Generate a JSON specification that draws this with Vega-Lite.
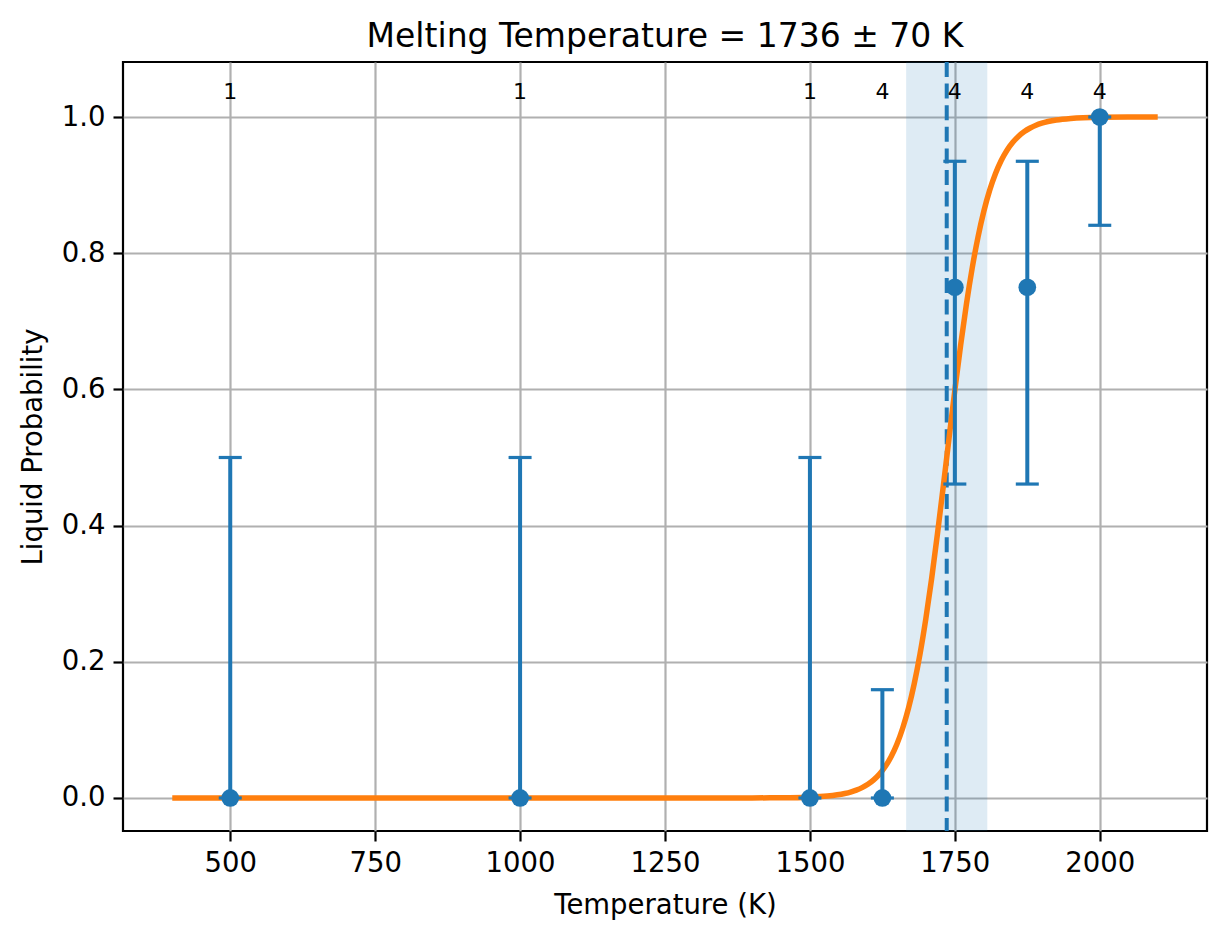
{
  "$schema": "https://vega.github.io/schema/vega-lite/v6.json",
  "autosize": {"type": "none"},
  "padding": {"left": 123, "top": 62, "right": 20, "bottom": 108},
  "width": 1084,
  "height": 769,
  "background": "white",
  "title": {
    "text": "Melting Temperature = 1736 ± 70 K",
    "font": "DejaVu Sans",
    "fontSize": 33,
    "fontWeight": "normal",
    "color": "black",
    "offset": 6
  },
  "config": {
    "view": {"stroke": "black", "strokeWidth": 2.2},
    "axis": {
      "labelFont": "DejaVu Sans",
      "labelFontSize": 27.5,
      "labelColor": "black",
      "titleFont": "DejaVu Sans",
      "titleFontSize": 27.5,
      "titleFontWeight": "normal",
      "titleColor": "black",
      "domain": false,
      "tickColor": "black",
      "tickSize": 10,
      "tickWidth": 2.2,
      "labelPadding": 8,
      "gridColor": "#b0b0b0",
      "gridWidth": 2.2,
      "gridOpacity": 1
    }
  },
  "datasets": {
    "pts": [
      {"T": 500, "p": 0, "lo": 0, "hi": 0.5, "n": "1"},
      {"T": 1000, "p": 0, "lo": 0, "hi": 0.5, "n": "1"},
      {"T": 1500, "p": 0, "lo": 0, "hi": 0.5, "n": "1"},
      {"T": 1625, "p": 0, "lo": 0, "hi": 0.159, "n": "4"},
      {"T": 1750, "p": 0.75, "lo": 0.461, "hi": 0.935, "n": "4"},
      {"T": 1875, "p": 0.75, "lo": 0.461, "hi": 0.935, "n": "4"},
      {"T": 2000, "p": 1.0, "lo": 0.841, "hi": 1.0, "n": "4"}
    ],
    "fit": [
      {"T": 400, "P": 0.0},
      {"T": 1400, "P": 0.0001},
      {"T": 1450, "P": 0.0003},
      {"T": 1500, "P": 0.0012},
      {"T": 1530, "P": 0.0028},
      {"T": 1560, "P": 0.0065},
      {"T": 1570, "P": 0.0086},
      {"T": 1580, "P": 0.0115},
      {"T": 1590, "P": 0.0152},
      {"T": 1600, "P": 0.0201},
      {"T": 1610, "P": 0.0266},
      {"T": 1620, "P": 0.0351},
      {"T": 1630, "P": 0.0462},
      {"T": 1640, "P": 0.0605},
      {"T": 1650, "P": 0.0789},
      {"T": 1660, "P": 0.1024},
      {"T": 1670, "P": 0.1317},
      {"T": 1680, "P": 0.168},
      {"T": 1690, "P": 0.2118},
      {"T": 1700, "P": 0.2634},
      {"T": 1710, "P": 0.3223},
      {"T": 1720, "P": 0.3877},
      {"T": 1730, "P": 0.4573},
      {"T": 1736, "P": 0.5},
      {"T": 1740, "P": 0.5285},
      {"T": 1750, "P": 0.5987},
      {"T": 1760, "P": 0.665},
      {"T": 1770, "P": 0.7254},
      {"T": 1780, "P": 0.7785},
      {"T": 1790, "P": 0.8239},
      {"T": 1800, "P": 0.8616},
      {"T": 1810, "P": 0.8923},
      {"T": 1820, "P": 0.9168},
      {"T": 1830, "P": 0.9362},
      {"T": 1840, "P": 0.9513},
      {"T": 1850, "P": 0.9629},
      {"T": 1860, "P": 0.9719},
      {"T": 1870, "P": 0.9787},
      {"T": 1880, "P": 0.9839},
      {"T": 1890, "P": 0.9879},
      {"T": 1900, "P": 0.9909},
      {"T": 1925, "P": 0.9955},
      {"T": 1950, "P": 0.9978},
      {"T": 2000, "P": 0.9995},
      {"T": 2050, "P": 0.9999},
      {"T": 2100, "P": 1.0}
    ],
    "melt": [{"Tm": 1736, "lo": 1666, "hi": 1806}]
  },
  "layer": [
    {
      "data": {"name": "melt"},
      "mark": {"type": "rect", "color": "#1f77b4", "opacity": 0.15},
      "encoding": {
        "x": {
          "field": "lo",
          "type": "quantitative",
          "scale": {"domain": [315, 2185], "nice": false, "zero": false},
          "axis": {"values": [500, 750, 1000, 1250, 1500, 1750, 2000], "format": "d", "title": "Temperature (K)", "titlePadding": 15}
        },
        "x2": {"field": "hi"}
      }
    },
    {
      "data": {"name": "melt"},
      "mark": {"type": "rule", "color": "#1f77b4", "strokeWidth": 4, "strokeDash": [15, 6.6]},
      "encoding": {
        "x": {"field": "Tm", "type": "quantitative"}
      }
    },
    {
      "data": {"name": "fit"},
      "mark": {"type": "line", "color": "#ff7f0e", "strokeWidth": 5.5, "interpolate": "monotone"},
      "encoding": {
        "x": {"field": "T", "type": "quantitative"},
        "y": {
          "field": "P",
          "type": "quantitative",
          "scale": {"domain": [-0.0485, 1.0808], "nice": false, "zero": false},
          "axis": {"values": [0, 0.2, 0.4, 0.6, 0.8, 1.0], "format": ".1f", "title": "Liquid Probability", "titlePadding": 14}
        }
      }
    },
    {
      "data": {"name": "pts"},
      "mark": {"type": "rule", "color": "#1f77b4", "strokeWidth": 4},
      "encoding": {
        "x": {"field": "T", "type": "quantitative"},
        "y": {"field": "lo", "type": "quantitative"},
        "y2": {"field": "hi"}
      }
    },
    {
      "data": {"name": "pts"},
      "mark": {"type": "tick", "orient": "horizontal", "color": "#1f77b4", "size": 23, "thickness": 3.2, "opacity": 1},
      "encoding": {
        "x": {"field": "T", "type": "quantitative"},
        "y": {"field": "hi", "type": "quantitative"}
      }
    },
    {
      "data": {"name": "pts"},
      "mark": {"type": "tick", "orient": "horizontal", "color": "#1f77b4", "size": 23, "thickness": 3.2, "opacity": 1},
      "encoding": {
        "x": {"field": "T", "type": "quantitative"},
        "y": {"field": "lo", "type": "quantitative"}
      }
    },
    {
      "data": {"name": "pts"},
      "mark": {"type": "circle", "color": "#1f77b4", "size": 314, "opacity": 1},
      "encoding": {
        "x": {"field": "T", "type": "quantitative"},
        "y": {"field": "p", "type": "quantitative"}
      }
    },
    {
      "data": {"name": "pts"},
      "mark": {"type": "text", "font": "DejaVu Sans", "fontSize": 22, "color": "black", "baseline": "middle", "align": "center", "y": {"expr": "scale('y', 1.037)"}},
      "encoding": {
        "x": {"field": "T", "type": "quantitative"},
        "text": {"field": "n"}
      }
    }
  ]
}
